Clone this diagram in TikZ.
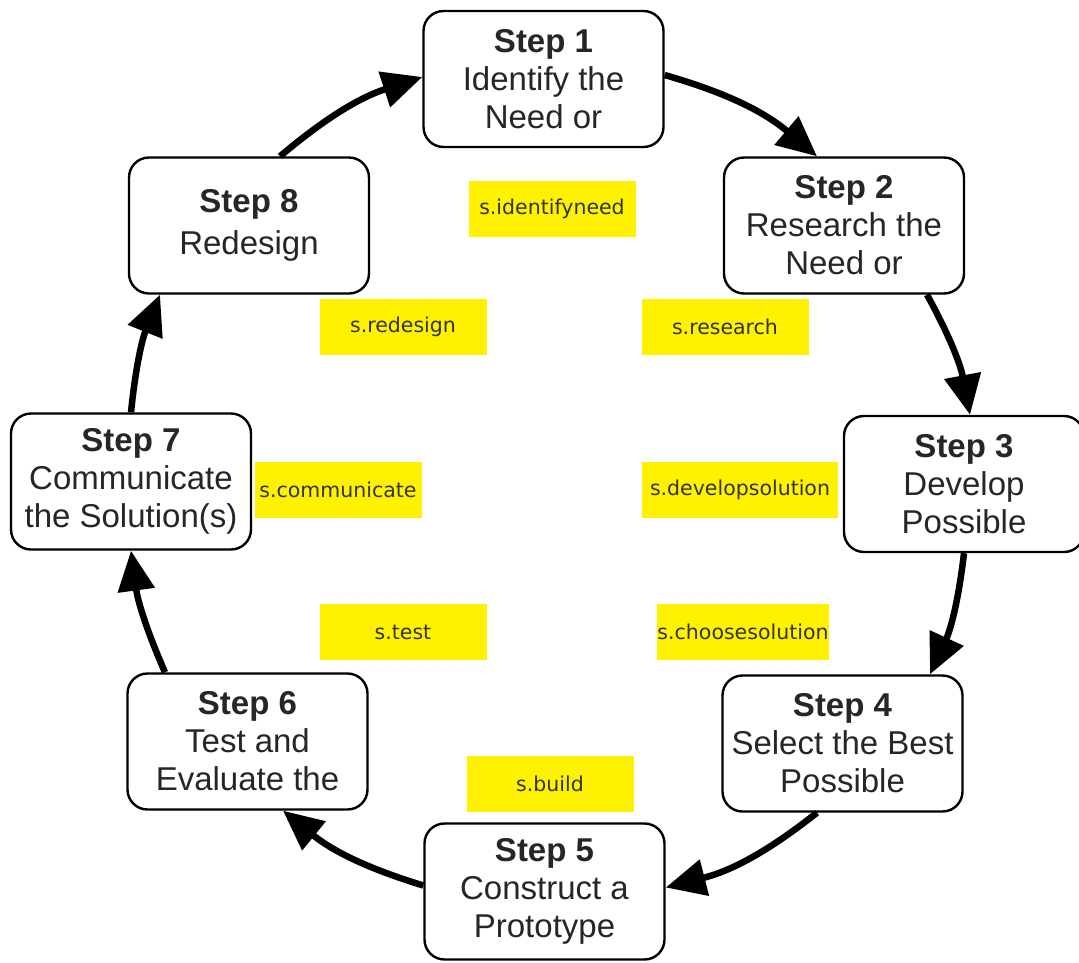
\documentclass[tikz,border=0pt]{standalone}
\usepackage{fontspec}
\setmainfont{Liberation Sans}
\newfontfamily\labfont{DejaVu Sans}
\usetikzlibrary{arrows.meta}
\begin{document}
\begin{tikzpicture}[x=1pt,y=-1pt,
  stepbox/.style={draw=black, line width=2.4pt, rounded corners=20pt, fill=white,
    minimum width=240pt, minimum height=136pt, align=center, inner sep=0pt,
    font=\fontsize{33}{38}\selectfont, text=black!85},
  tag/.style={fill=yellow, minimum width=167pt, minimum height=56pt, inner sep=0pt,
    font=\labfont\fontsize{20.5}{23}\selectfont, text=black!80},
  flow/.style={line width=6.5pt, draw=black, -{Triangle[length=40pt,width=36pt]}}]
\clip (0,0) rectangle (1079,962);
\fill[white] (0,0) rectangle (1079,962);

% step boxes
\node[stepbox] (s1) at (543.5,79)  {\textbf{Step 1}\\Identify the\\Need or};
\node[stepbox] (s2) at (844,225.5) {\textbf{Step 2}\\Research the\\Need or};
\node[stepbox] (s3) at (964,484)   {\textbf{Step 3}\\Develop\\Possible};
\node[stepbox] (s4) at (842.5,743.5) {\textbf{Step 4}\\Select the Best\\Possible};
\node[stepbox] (s5) at (544.5,891.5) {\textbf{Step 5}\\Construct a\\Prototype};
\node[stepbox] (s6) at (247.5,741.5) {\textbf{Step 6}\\Test and\\Evaluate the};
\node[stepbox] (s7) at (131,481.5) {\textbf{Step 7}\\Communicate\\the Solution(s)};
\node[stepbox] (s8) at (249,225.5) {\textbf{Step 8}\\[4pt]Redesign};

% yellow tags
\node[tag] (t1) at (552,209) {s.identifyneed};
\node[tag] (t8) at (403,327) {s.redesign};
\node[tag] (t2) at (725,327) {s.research};
\node[tag] (t7) at (338,490) {s.communicate};
\node[tag, minimum width=196pt] (t3) at (740,490) {s.developsolution};
\node[tag, minimum width=170pt] (t4) at (743,632) {s.choosesolution};
\node[tag] (t6) at (403,632) {s.test};
\node[tag] (t5) at (550,784) {s.build};

% connectors
\draw[flow] ([yshift=4pt]s1.east) to[bend left=12] ([xshift=-27pt]s2.north);
\draw[flow] ([xshift=83pt]s2.south) to[bend left=9] ([xshift=6pt]s3.north);
\draw[flow] (s3.south) to[bend left=9] ([xshift=87.5pt]s4.north);
\draw[flow] ([xshift=-25.5pt]s4.south) to[bend left=12] ([yshift=4pt]s5.east);
\draw[flow] ([yshift=6pt]s5.west) to[bend left=11] ([xshift=35.5pt]s6.south);
\draw[flow] ([xshift=-82.5pt]s6.north) to[bend left=8] (s7.south);
\draw[flow] (s7.north) to[bend left=8] ([xshift=-89pt]s8.south);
\draw[flow] ([xshift=31pt]s8.north) to[bend left=11] ([yshift=2pt]s1.west);
\end{tikzpicture}
\end{document}
